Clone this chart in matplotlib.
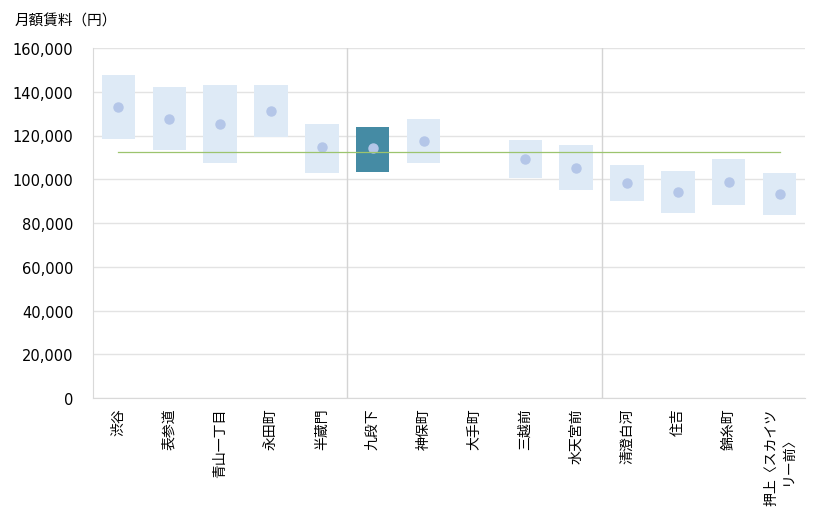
import numpy as np
import matplotlib
matplotlib.use("Agg")
import matplotlib.pyplot as plt

plt.rcParams['font.family'] = ['DejaVu Sans', 'Noto Sans CJK JP']

# ------------------------------------------
# DATA
# ------------------------------------------
stations = ["渋谷", "表参道", "青山一丁目", "永田町", "半蔵門", "九段下", "神保町",
            "大手町", "三越前", "水天宮前", "清澄白河", "住吉", "錦糸町",
            "押上〈スカイツ\nリー前〉"]
rent_low = [118400, 113500, 107600, 119500, 103000, 103500, 107600,
            np.nan, 100700, 95200, 90200, 84700, 88400, 83800]
rent_high = [147700, 142200, 143100, 143000, 125300, 123900, 127500,
             np.nan, 117900, 115700, 106500, 103800, 109300, 102900]
rent_avg = [132900, 127400, 125100, 131000, 114600, 114100, 117300,
            np.nan, 109100, 105000, 98100, 94000, 98600, 93100]
overall_avg = 112300
highlight = "九段下"
separators = [4.5, 9.5]

# ------------------------------------------
# PLOT
# ------------------------------------------
fig = plt.figure(figsize=(8.2, 5.1), dpi=100)
ax = fig.add_axes([93 / 820, 1 - 399 / 510, 712 / 820, 350 / 510])

x = np.arange(len(stations))
low = np.array(rent_low)
high = np.array(rent_high)
colors = ["#458ba4" if s == highlight else "#deeaf6" for s in stations]
ax.bar(x, high - low, bottom=low, width=0.66, color=colors, zorder=2)
ax.plot(x, rent_avg, "o", color="#b4c6e8", markersize=6.5, zorder=3)
ax.plot([x[0], x[-1]], [overall_avg, overall_avg], color="#9cc46e", lw=0.9, zorder=4)

for s in separators:
    ax.axvline(s, color="#d4d4d4", lw=1, zorder=1)

ax.set_xlim(-0.5, len(stations) - 0.5)
ax.set_ylim(0, 160000)
ax.set_yticks(range(0, 160001, 20000))
ax.set_yticklabels([f"{v:,}" for v in range(0, 160001, 20000)], fontsize=10.5)
ax.yaxis.grid(True, color="#e3e3e3", lw=1, zorder=0)
ax.set_axisbelow(True)

ax.set_xticks(x)
ax.set_xticklabels(stations, rotation=90, fontsize=10, va="top", ha="center",
                   multialignment="center")
ax.tick_params(axis="x", length=0, pad=7)
ax.tick_params(axis="y", length=0, pad=14)

for side in ["top", "right"]:
    ax.spines[side].set_visible(False)
for side in ["left", "bottom"]:
    ax.spines[side].set_color("#d9d9d9")

fig.text(15 / 820, 1 - 21 / 510, "月額賃料（円）", fontsize=10.5, va="center", ha="left")

plt.savefig("out.png")
plt.close()
